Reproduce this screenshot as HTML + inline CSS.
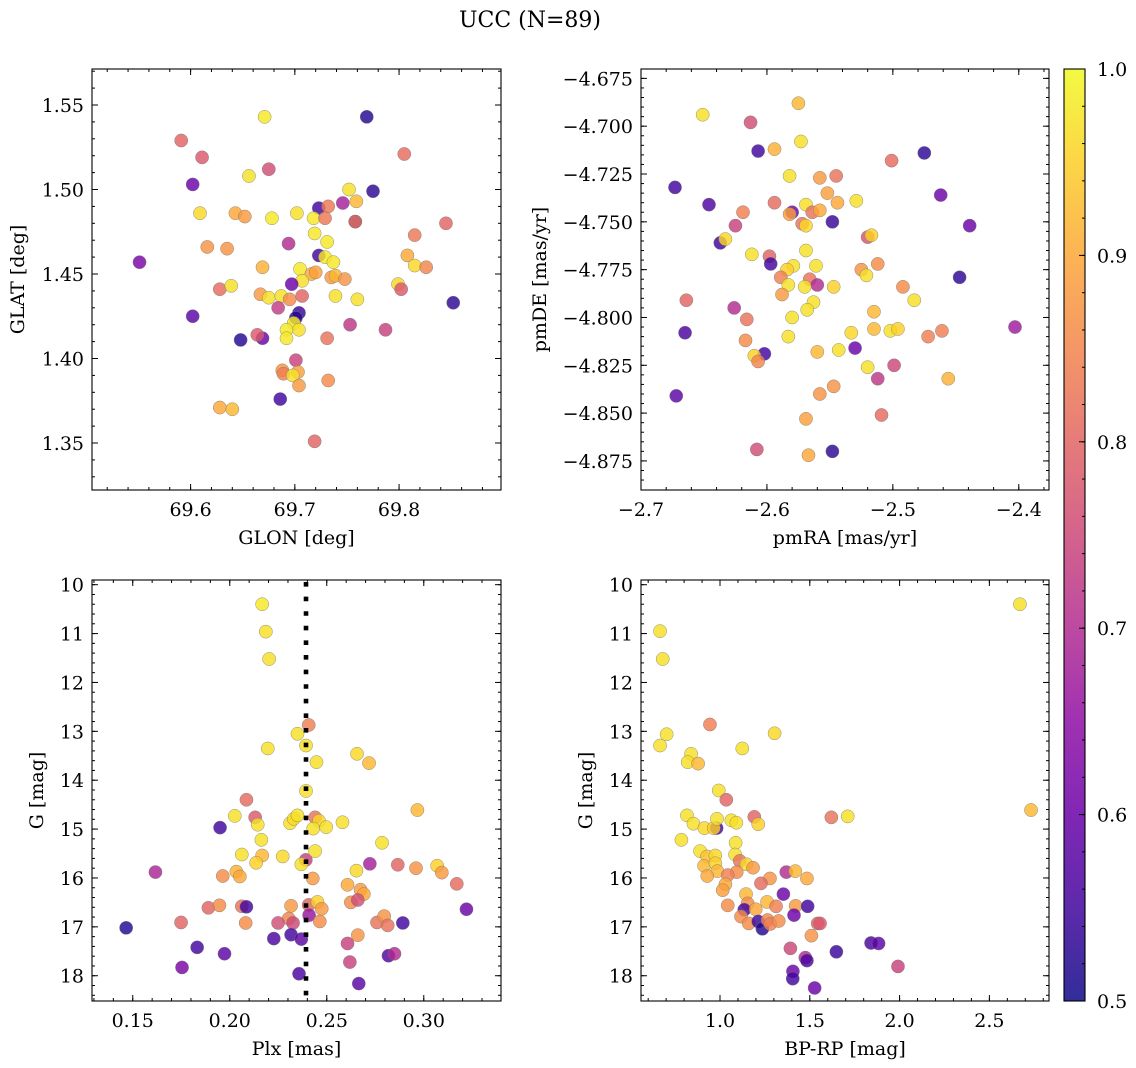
<!DOCTYPE html>
<html>
<head>
<meta charset="utf-8">
<style>
  html,body{margin:0;padding:0;background:#fff;}
  svg{display:block;}
  text{font-family:"DejaVu Serif","Liberation Serif",serif;fill:#000;}
</style>
</head>
<body>
<svg id="fig" width="1136" height="1068" viewBox="0 0 1136 1068" xmlns="http://www.w3.org/2000/svg">
  <text x="530" y="27" font-size="22" text-anchor="middle">UCC (N=89)</text>
</svg>
<script>
// ---------- Panel 1: GLON vs GLAT ----------
const p1Glon = [69.671,69.769,69.591,69.611,69.805,69.675,69.656,69.602,69.752,69.775,69.759,69.746,69.723,69.732,69.609,69.643,69.652,69.678,69.702,69.718,69.729,69.758,69.758,69.845,69.815,69.719,69.731,69.694,69.616,69.635,69.723,69.729,69.737,69.551,69.808,69.815,69.826,69.669,69.705,69.716,69.720,69.735,69.739,69.748,69.707,69.697,69.628,69.639,69.799,69.802,69.667,69.675,69.687,69.695,69.707,69.739,69.760,69.852,69.684,69.602,69.704,69.701,69.699,69.704,69.692,69.692,69.753,69.787,69.648,69.669,69.664,69.731,69.701,69.688,69.703,69.689,69.698,69.704,69.732,69.686,69.628,69.640,69.719];
const p1Glat = [1.543,1.543,1.529,1.519,1.521,1.512,1.508,1.503,1.500,1.499,1.493,1.492,1.489,1.490,1.486,1.486,1.484,1.483,1.486,1.483,1.483,1.481,1.481,1.480,1.473,1.474,1.469,1.468,1.466,1.465,1.461,1.460,1.457,1.457,1.461,1.455,1.454,1.454,1.453,1.450,1.451,1.448,1.449,1.447,1.446,1.444,1.441,1.443,1.444,1.441,1.438,1.436,1.437,1.435,1.437,1.437,1.435,1.433,1.430,1.425,1.427,1.424,1.421,1.417,1.417,1.412,1.420,1.417,1.411,1.412,1.414,1.412,1.399,1.393,1.392,1.391,1.390,1.384,1.387,1.376,1.371,1.370,1.351];
const p1Prob = [0.98,0.52,0.80,0.78,0.81,0.76,0.97,0.60,0.97,0.53,0.92,0.68,0.55,0.83,0.96,0.90,0.88,0.98,0.97,0.98,0.83,0.53,0.82,0.80,0.83,0.98,0.98,0.70,0.87,0.87,0.55,0.98,0.98,0.62,0.90,0.96,0.85,0.91,0.98,0.90,0.89,0.88,0.92,0.87,0.97,0.60,0.81,0.97,0.96,0.78,0.88,0.97,0.97,0.86,0.80,0.97,0.97,0.53,0.73,0.58,0.54,0.52,0.98,0.97,0.98,0.98,0.72,0.74,0.52,0.60,0.78,0.82,0.74,0.87,0.89,0.84,0.97,0.88,0.86,0.55,0.90,0.92,0.80];
const p1XTicks = [69.6,69.7,69.8];
const p1XLabels = ["69.6","69.7","69.8"];
const p1YTicks = [1.35,1.40,1.45,1.50,1.55];
const p1YLabels = ["1.35","1.40","1.45","1.50","1.55"];

// ---------- Panel 2: pmRA vs pmDE ----------
const p2PmRA = [-2.651,-2.575,-2.613,-2.607,-2.594,-2.573,-2.475,-2.501,-2.673,-2.582,-2.558,-2.545,-2.552,-2.529,-2.462,-2.646,-2.594,-2.544,-2.569,-2.619,-2.580,-2.582,-2.564,-2.558,-2.548,-2.625,-2.572,-2.569,-2.439,-2.520,-2.517,-2.637,-2.633,-2.612,-2.598,-2.597,-2.569,-2.579,-2.584,-2.561,-2.525,-2.512,-2.521,-2.447,-2.589,-2.566,-2.560,-2.583,-2.570,-2.547,-2.492,-2.588,-2.664,-2.563,-2.483,-2.626,-2.568,-2.515,-2.616,-2.580,-2.665,-2.617,-2.583,-2.533,-2.515,-2.502,-2.496,-2.472,-2.461,-2.403,-2.602,-2.610,-2.607,-2.560,-2.543,-2.530,-2.520,-2.499,-2.512,-2.456,-2.672,-2.558,-2.547,-2.509,-2.569,-2.608,-2.567,-2.548];
const p2PmDE = [-4.694,-4.688,-4.698,-4.713,-4.712,-4.708,-4.714,-4.718,-4.732,-4.726,-4.727,-4.726,-4.735,-4.739,-4.736,-4.741,-4.740,-4.740,-4.741,-4.745,-4.745,-4.746,-4.745,-4.744,-4.750,-4.752,-4.751,-4.752,-4.752,-4.758,-4.757,-4.761,-4.759,-4.767,-4.768,-4.772,-4.765,-4.773,-4.775,-4.773,-4.775,-4.772,-4.778,-4.779,-4.779,-4.780,-4.783,-4.783,-4.784,-4.784,-4.784,-4.788,-4.791,-4.792,-4.791,-4.795,-4.796,-4.797,-4.801,-4.800,-4.808,-4.812,-4.810,-4.808,-4.806,-4.807,-4.806,-4.810,-4.807,-4.805,-4.819,-4.820,-4.823,-4.818,-4.817,-4.816,-4.826,-4.825,-4.832,-4.832,-4.841,-4.840,-4.836,-4.851,-4.853,-4.869,-4.872,-4.870];
const p2Prob = [0.97,0.92,0.76,0.55,0.91,0.97,0.53,0.81,0.55,0.97,0.88,0.82,0.89,0.97,0.60,0.57,0.81,0.90,0.97,0.84,0.60,0.89,0.82,0.90,0.54,0.74,0.82,0.96,0.60,0.77,0.95,0.55,0.96,0.97,0.80,0.55,0.97,0.97,0.95,0.97,0.87,0.86,0.97,0.53,0.84,0.82,0.70,0.97,0.97,0.95,0.86,0.88,0.80,0.97,0.97,0.70,0.97,0.92,0.82,0.97,0.56,0.86,0.97,0.96,0.92,0.97,0.95,0.84,0.84,0.67,0.55,0.95,0.85,0.92,0.97,0.60,0.97,0.75,0.72,0.91,0.58,0.87,0.87,0.81,0.89,0.76,0.90,0.53];
const p2XTicks = [-2.7,-2.6,-2.5,-2.4];
const p2XLabels = ["\u22122.7","\u22122.6","\u22122.5","\u22122.4"];
const p2YTicks = [-4.675,-4.700,-4.725,-4.750,-4.775,-4.800,-4.825,-4.850,-4.875];
const p2YLabels = ["\u22124.675","\u22124.700","\u22124.725","\u22124.750","\u22124.775","\u22124.800","\u22124.825","\u22124.850","\u22124.875"];

// ---------- Panel 3: Plx vs G ----------
const p3Plx = [0.2167,0.2186,0.2203,0.2407,0.2349,0.2393,0.2196,0.2447,0.2656,0.2718,0.2393,0.2086,0.2967,0.2026,0.2131,0.2144,0.2311,0.2330,0.2349,0.2440,0.2460,0.2430,0.2497,0.2581,0.1950,0.2163,0.2785,0.2062,0.2167,0.2136,0.2273,0.2392,0.2369,0.2440,0.1617,0.2722,0.2866,0.2960,0.3069,0.3093,0.2653,0.2034,0.2052,0.1964,0.2428,0.3170,0.2607,0.2674,0.2691,0.1890,0.1947,0.2062,0.2086,0.2316,0.2407,0.2452,0.2474,0.2624,0.2660,0.3220,0.2409,0.2304,0.1749,0.2082,0.2249,0.2326,0.2464,0.2759,0.2796,0.2814,0.2892,0.1466,0.2660,0.2227,0.2316,0.2369,0.1832,0.1973,0.2607,0.2818,0.2849,0.1754,0.2619,0.2357,0.2665];
const p3G = [10.40,10.96,11.52,12.87,13.05,13.29,13.35,13.63,13.46,13.65,14.22,14.40,14.61,14.73,14.76,14.91,14.88,14.79,14.72,14.76,14.83,14.99,14.96,14.86,14.97,15.22,15.28,15.52,15.54,15.69,15.56,15.63,15.72,15.45,15.88,15.71,15.73,15.80,15.75,15.89,15.85,15.87,15.97,15.96,16.01,16.12,16.14,16.24,16.33,16.61,16.56,16.58,16.59,16.57,16.55,16.49,16.63,16.50,16.45,16.64,16.76,16.83,16.91,16.92,16.92,16.92,16.89,16.91,16.78,16.97,16.92,17.02,17.17,17.24,17.16,17.25,17.42,17.55,17.34,17.59,17.55,17.83,17.72,17.96,18.16];
const p3Prob = [0.98,0.97,0.97,0.84,0.97,0.97,0.97,0.97,0.96,0.92,0.97,0.81,0.92,0.97,0.78,0.97,0.97,0.96,0.97,0.82,0.96,0.97,0.97,0.97,0.55,0.97,0.97,0.97,0.92,0.95,0.96,0.74,0.97,0.97,0.69,0.68,0.80,0.87,0.95,0.88,0.96,0.91,0.90,0.86,0.88,0.81,0.90,0.88,0.90,0.80,0.86,0.82,0.55,0.88,0.80,0.95,0.88,0.86,0.76,0.60,0.66,0.85,0.80,0.86,0.76,0.75,0.86,0.82,0.87,0.82,0.55,0.52,0.87,0.56,0.55,0.58,0.55,0.58,0.74,0.57,0.70,0.62,0.74,0.56,0.58];
const p3XTicks = [0.15,0.20,0.25,0.30];
const p3XLabels = ["0.15","0.20","0.25","0.30"];
const p3YTicks = [10,11,12,13,14,15,16,17,18];
const p3YLabels = ["10","11","12","13","14","15","16","17","18"];
const p3PlxMedian = [0.2393];

// ---------- Panel 4: BP-RP vs G ----------
const p4BPRP = [2.670,0.666,0.681,0.944,0.703,0.666,1.304,1.124,0.839,0.820,0.878,0.993,1.035,0.816,0.852,0.913,0.981,0.965,0.983,1.063,1.091,1.191,1.213,1.620,1.711,2.732,0.785,1.087,0.889,0.928,0.974,1.084,1.110,1.147,1.184,0.911,0.974,0.985,0.929,1.093,1.043,1.369,1.419,1.484,1.278,1.228,1.030,1.015,1.353,1.145,1.043,1.154,1.135,1.199,1.262,1.312,1.421,1.488,1.412,1.117,1.160,1.213,1.236,1.265,1.280,1.327,1.544,1.557,1.509,1.392,1.648,1.841,1.883,1.475,1.484,1.991,1.406,1.405,1.527];
const p4G = [10.40,10.95,11.52,12.86,13.06,13.29,13.04,13.35,13.46,13.63,13.66,14.21,14.40,14.72,14.89,14.98,14.98,14.98,14.79,14.82,14.87,14.75,14.90,14.76,14.74,14.61,15.22,15.28,15.45,15.56,15.54,15.52,15.65,15.72,15.79,15.75,15.70,15.86,15.96,15.88,15.94,15.88,15.86,16.01,16.01,16.11,16.13,16.25,16.33,16.33,16.56,16.52,16.65,16.64,16.49,16.58,16.57,16.58,16.76,16.79,16.93,16.89,17.04,16.86,16.94,16.88,16.93,16.93,17.18,17.44,17.51,17.33,17.34,17.63,17.69,17.81,17.91,18.06,18.25];
const p4Prob = [0.97,0.97,0.97,0.84,0.97,0.97,0.96,0.97,0.97,0.97,0.92,0.97,0.80,0.97,0.97,0.96,0.55,0.95,0.97,0.97,0.97,0.80,0.95,0.82,0.97,0.92,0.97,0.97,0.97,0.93,0.96,0.97,0.82,0.96,0.88,0.92,0.95,0.92,0.90,0.86,0.84,0.70,0.92,0.90,0.87,0.81,0.90,0.89,0.60,0.92,0.86,0.86,0.55,0.90,0.92,0.84,0.88,0.55,0.60,0.86,0.86,0.54,0.52,0.85,0.84,0.86,0.80,0.78,0.87,0.75,0.54,0.56,0.58,0.70,0.56,0.74,0.60,0.55,0.60];
const p4XTicks = [1.0,1.5,2.0,2.5];
const p4XLabels = ["1.0","1.5","2.0","2.5"];

// ---------- Colorbar ----------
const cbTicks = [0.5,0.6,0.7,0.8,0.9,1.0];
const cbLabels = ["0.5","0.6","0.7","0.8","0.9","1.0"];

const FS = 19;
const NS = "http://www.w3.org/2000/svg";
const svg = document.getElementById('fig');
function mk(tag, attrs, parent){
  const e = document.createElementNS(NS, tag);
  for (const k in attrs) e.setAttribute(k, attrs[k]);
  (parent||svg).appendChild(e);
  return e;
}

const plasmaStops = ["#0d0887","#41049d","#6a00a8","#8f0da4","#b12a90","#cc4778","#e16462","#f2844b","#fca636","#fcce25","#f0f921"];
function hex(h){return [parseInt(h.substr(1,2),16),parseInt(h.substr(3,2),16),parseInt(h.substr(5,2),16)];}
function plasma(t){
  t = Math.max(0,Math.min(1,t));
  const f = t*10, i = Math.min(9,Math.floor(f)), r = f-i;
  const a = hex(plasmaStops[i]), b = hex(plasmaStops[i+1]);
  return "rgb("+a.map((v,k)=>Math.round(v+(b[k]-v)*r)).join(",")+")";
}
function probColor(p){ return plasma((p-0.5)/0.5); }

function linScale(d0,d1,r0,r1){ return v => r0 + (v-d0)/(d1-d0)*(r1-r0); }

function drawPanel(cfg){
  const g = mk('g',{});
  
  
  const x0=cfg.box.x0, x1=cfg.box.x1, y0=cfg.box.y0, y1=cfg.box.y1;
  const sx = linScale(cfg.xd[0],cfg.xd[1],x0,x1);
  const sy = linScale(cfg.yd[0],cfg.yd[1],y1,y0);
  const cid = 'clip-'+cfg.name;
  const cp = mk('clipPath',{id:cid},g);
  mk('rect',{x:x0,y:y0,width:x1-x0,height:y1-y0},cp);
  const pts = mk('g',{'clip-path':'url(#'+cid+')'},g);
  
  
  for (let i=0;i<cfg.xs.length;i++){
    const c = mk('circle',{cx:sx(cfg.xs[i]).toFixed(2),cy:sy(cfg.ys[i]).toFixed(2),r:6.6,
      fill:probColor(cfg.ps[i]),'fill-opacity':0.82,stroke:'#777','stroke-width':0.5,'stroke-opacity':0.8},pts);
    
    
  }
  if (cfg.vline){
    for (const v of cfg.vline){
      const l = mk('line',{x1:sx(v),x2:sx(v),y1:y0+2,y2:y1,stroke:'#000','stroke-width':4.6,'stroke-dasharray':'4.6 10'},pts);
      
      
    }
  }
  const fr = mk('rect',{x:x0,y:y0,width:x1-x0,height:y1-y0,fill:'none',stroke:'#000','stroke-width':1.1},g);
  
  
  const tg = mk('g',{stroke:'#000','stroke-width':1},g);
  const eps = 1e-9;
  function minorRange(d0,d1,step){
    const a=[]; const lo=Math.min(d0,d1), hi=Math.max(d0,d1);
    const n0=Math.ceil(lo/step-eps), n1=Math.floor(hi/step+eps);
    for (let n=n0; n<=n1; n++) a.push(n*step);
    return a;
  }
  for (const v of minorRange(cfg.xd[0],cfg.xd[1],cfg.xminor)){
    const X=sx(v); if (X<x0+0.5||X>x1-0.5) continue;
    mk('line',{x1:X,x2:X,y1:y1,y2:y1-3},tg); mk('line',{x1:X,x2:X,y1:y0,y2:y0+3},tg);
  }
  for (const v of minorRange(cfg.yd[0],cfg.yd[1],cfg.yminor)){
    const Y=sy(v); if (Y<y0+0.5||Y>y1-0.5) continue;
    mk('line',{x1:x0,x2:x0+3,y1:Y,y2:Y},tg); mk('line',{x1:x1,x2:x1-3,y1:Y,y2:Y},tg);
  }
  cfg.xt.forEach((v,i)=>{
    const X=sx(v);
    mk('line',{x1:X,x2:X,y1:y1,y2:y1-6},tg); mk('line',{x1:X,x2:X,y1:y0,y2:y0+6},tg);
    const t = mk('text',{x:X,y:y1+26,'font-size':FS,'text-anchor':'middle'},g);
    t.textContent = cfg.xl[i];
    
    
  });
  cfg.yt.forEach((v,i)=>{
    const Y=sy(v);
    mk('line',{x1:x0,x2:x0+6,y1:Y,y2:Y},tg); mk('line',{x1:x1,x2:x1-6,y1:Y,y2:Y},tg);
    const t = mk('text',{x:x0-8,y:Y+7,'font-size':FS,'text-anchor':'end'},g);
    t.textContent = cfg.yl[i];
    
    
  });
  const xt = mk('text',{x:(x0+x1)/2,y:y1+54,'font-size':FS,'text-anchor':'middle'},g);
  xt.textContent = cfg.xtitle;
  
  
  const yt = mk('text',{x:0,y:0,'font-size':FS,'text-anchor':'middle',transform:'translate('+cfg.ytx+','+((y0+y1)/2)+') rotate(-90)'},g);
  yt.textContent = cfg.ytitle;
  
  
}

const gRange = [18.517, 9.904];

drawPanel({name:'glon-glat-panel',box:{x0:92,x1:501,y0:69,y1:490},xd:[69.5054,69.8978],yd:[1.3222,1.5713],
  xs:p1Glon,ys:p1Glat,ps:p1Prob,xt:p1XTicks,xl:p1XLabels,yt:p1YTicks,yl:p1YLabels,xminor:0.02,yminor:0.01,
  xtitle:'GLON [deg]',ytitle:'GLAT [deg]',ytx:24});
drawPanel({name:'pm-panel',box:{x0:641,x1:1049,y0:69,y1:490},xd:[-2.7,-2.376],yd:[-4.8902,-4.6701],
  xs:p2PmRA,ys:p2PmDE,ps:p2Prob,xt:p2XTicks,xl:p2XLabels,yt:p2YTicks,yl:p2YLabels,xminor:0.02,yminor:0.005,
  xtitle:'pmRA [mas/yr]',ytitle:'pmDE [mas/yr]',ytx:546});
drawPanel({name:'plx-g-panel',box:{x0:92,x1:501,y0:580,y1:1001},xd:[0.129,0.3398],yd:gRange,
  xs:p3Plx,ys:p3G,ps:p3Prob,xt:p3XTicks,xl:p3XLabels,yt:p3YTicks,yl:p3YLabels,xminor:0.01,yminor:0.2,
  xtitle:'Plx [mas]',ytitle:'G [mag]',ytx:43,vline:p3PlxMedian});
drawPanel({name:'cmd-panel',box:{x0:641,x1:1049,y0:580,y1:1001},xd:[0.56,2.832],yd:gRange,
  xs:p4BPRP,ys:p4G,ps:p4Prob,xt:p4XTicks,xl:p4XLabels,yt:p3YTicks,yl:p3YLabels,xminor:0.1,yminor:0.2,
  xtitle:'BP-RP [mag]',ytitle:'G [mag]',ytx:592});

(function(){
  const cx0=1064,cx1=1085,cy0=69,cy1=1001;
  const defs = mk('defs',{});
  const lg = mk('linearGradient',{id:'plasmaGrad',x1:0,y1:1,x2:0,y2:0},defs);
  plasmaStops.forEach((c,i)=>mk('stop',{offset:(i/10),'stop-color':c,'stop-opacity':0.85},lg));
  const g = mk('g',{});
  
  
  mk('rect',{x:cx0,y:cy0,width:cx1-cx0,height:cy1-cy0,fill:'url(#plasmaGrad)',stroke:'#000','stroke-width':1.1},g);
  const sy = linScale(0.5,1.0,cy1,cy0);
  for (let n=25; n<=50; n++){
    const Y=sy(n*0.02); if (Y<cy0+0.5||Y>cy1-0.5) continue;
    mk('line',{x1:cx1,x2:cx1-3,y1:Y,y2:Y,stroke:'#000'},g);
  }
  cbTicks.forEach((v,i)=>{
    const Y=sy(v);
    mk('line',{x1:cx1,x2:cx1-6,y1:Y,y2:Y,stroke:'#000'},g);
    const t = mk('text',{x:cx1+12,y:Y+7,'font-size':FS},g);
    t.textContent = cbLabels[i];
    
    
  });
})();
</script>
</body>
</html>
